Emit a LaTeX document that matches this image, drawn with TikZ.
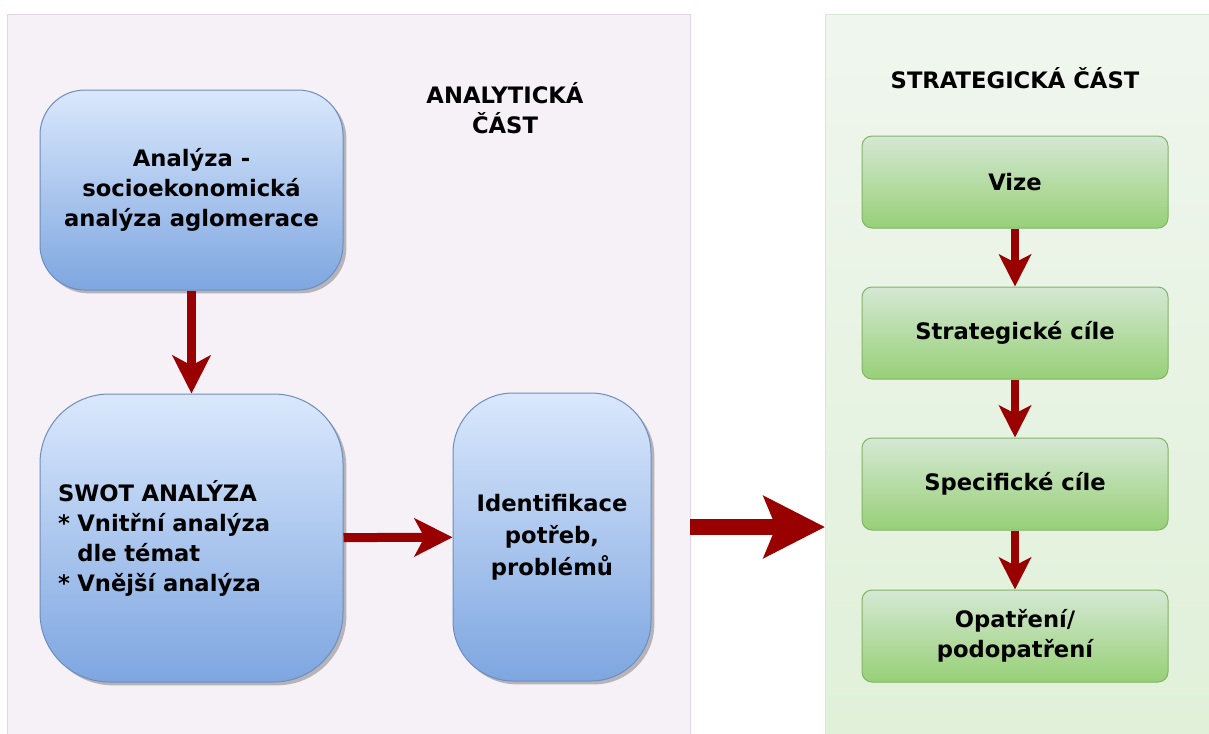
\documentclass[tikz,border=0pt]{standalone}
\usepackage{fontspec}
\setmainfont{DejaVu Sans}
\usetikzlibrary{arrows.meta,shadows,positioning}

\definecolor{panelLilac}{HTML}{F5F1F7}
\definecolor{panelLilacLine}{HTML}{E1D5E7}
\definecolor{panelGreenTop}{HTML}{F0F6EE}
\definecolor{panelGreenBot}{HTML}{DFF0D8}
\definecolor{panelGreenLine}{HTML}{D5E8D4}
\definecolor{blueTop}{HTML}{DAE8FC}
\definecolor{blueBot}{HTML}{7EA6E0}
\definecolor{blueLine}{HTML}{6C8EBF}
\definecolor{greenTop}{HTML}{D5E8D4}
\definecolor{greenBot}{HTML}{97D077}
\definecolor{greenLine}{HTML}{82B366}
\definecolor{arrowRed}{HTML}{990000}

\begin{document}
\begin{tikzpicture}[x=0.75pt,y=-0.75pt,
  font=\fontsize{17pt}{22.5pt}\selectfont\bfseries,
  panel/.style={anchor=north west,inner sep=0pt,line width=0.75pt,
    minimum height=559.5pt},
  bluebox/.style={draw=blueLine,line width=0.75pt,top color=blueTop,bottom color=blueBot,
    drop shadow={shadow xshift=2.5pt,shadow yshift=-2.5pt,fill=black,opacity=0.25},
    minimum height=#1},
  greenbox/.style={draw=greenLine,line width=0.75pt,top color=greenTop,bottom color=greenBot,
    rounded corners=7.5pt,minimum width=229.5pt,minimum height=69pt,align=center},
  redarrow/.style={draw=arrowRed,line width=6.75pt,
    -{Stealth[length=28.5pt,width=28.5pt,inset=7.5pt,fill=arrowRed]}},
  greenarrow/.style={draw=arrowRed,line width=6pt,
    -{Stealth[length=24pt,width=24pt,inset=6pt,fill=arrowRed]}},
  bigarrow/.style={draw=arrowRed,line width=12pt,
    -{Stealth[length=45.75pt,width=45.75pt,inset=9pt,fill=arrowRed]}}]
  \useasboundingbox[fill=white] (0,0) rectangle (1209,733);
  \node[panel,draw=panelLilacLine,fill=panelLilac,minimum width=512.25pt] (analytic) at (7,14) {};
  \node[panel,draw=panelGreenLine,top color=panelGreenTop,bottom color=panelGreenBot,
    minimum width=292.5pt] (strategic) at (825,14) {};
  \node[align=center] (analyticlabel) at (505,108) {ANALYTICKÁ\\ČÁST};
  \node (strategiclabel) at (1015,78) {STRATEGICKÁ ČÁST};
  \node[bluebox=150pt,rounded corners=33.75pt,minimum width=227.25pt,align=center] (socio) at (191.5,190)
    {Analýza -\\socioekonomická\\analýza aglomerace};
  \node[bluebox=216pt,rounded corners=52pt,text width=200.25pt,inner xsep=13.5pt,align=left] (swot) at (191.5,538)
    {SWOT ANALÝZA\\{*} Vnitřní analýza\\\phantom{*}\ dle témat\\{*} Vnější analýza};
  \node[bluebox=216pt,rounded corners=45pt,minimum width=148.5pt,align=center,
    font=\fontsize{17pt}{24pt}\selectfont\bfseries] (ident) at (552,537)
    {Identifikace\\potřeb,\\problémů};
  \node[greenbox] (vize) at (1015,182) {Vize};
  \node[greenbox] (goals) at (1015,333) {Strategické cíle};
  \node[greenbox] (specific) at (1015,484) {Specifické cíle};
  \node[greenbox] (measures) at (1015,636) {Opatření/\\podopatření};
  \coordinate (bigfrom) at (690,527);
  \coordinate (bigto) at (825,527);
  \draw[redarrow] (socio) -- (swot);
  \draw[redarrow] (swot) -- (ident);
  \draw[bigarrow] (bigfrom) -- (bigto);
  \draw[greenarrow] (vize) -- (goals);
  \draw[greenarrow] (goals) -- (specific);
  \draw[greenarrow] (specific) -- (measures);
\end{tikzpicture}
\end{document}
